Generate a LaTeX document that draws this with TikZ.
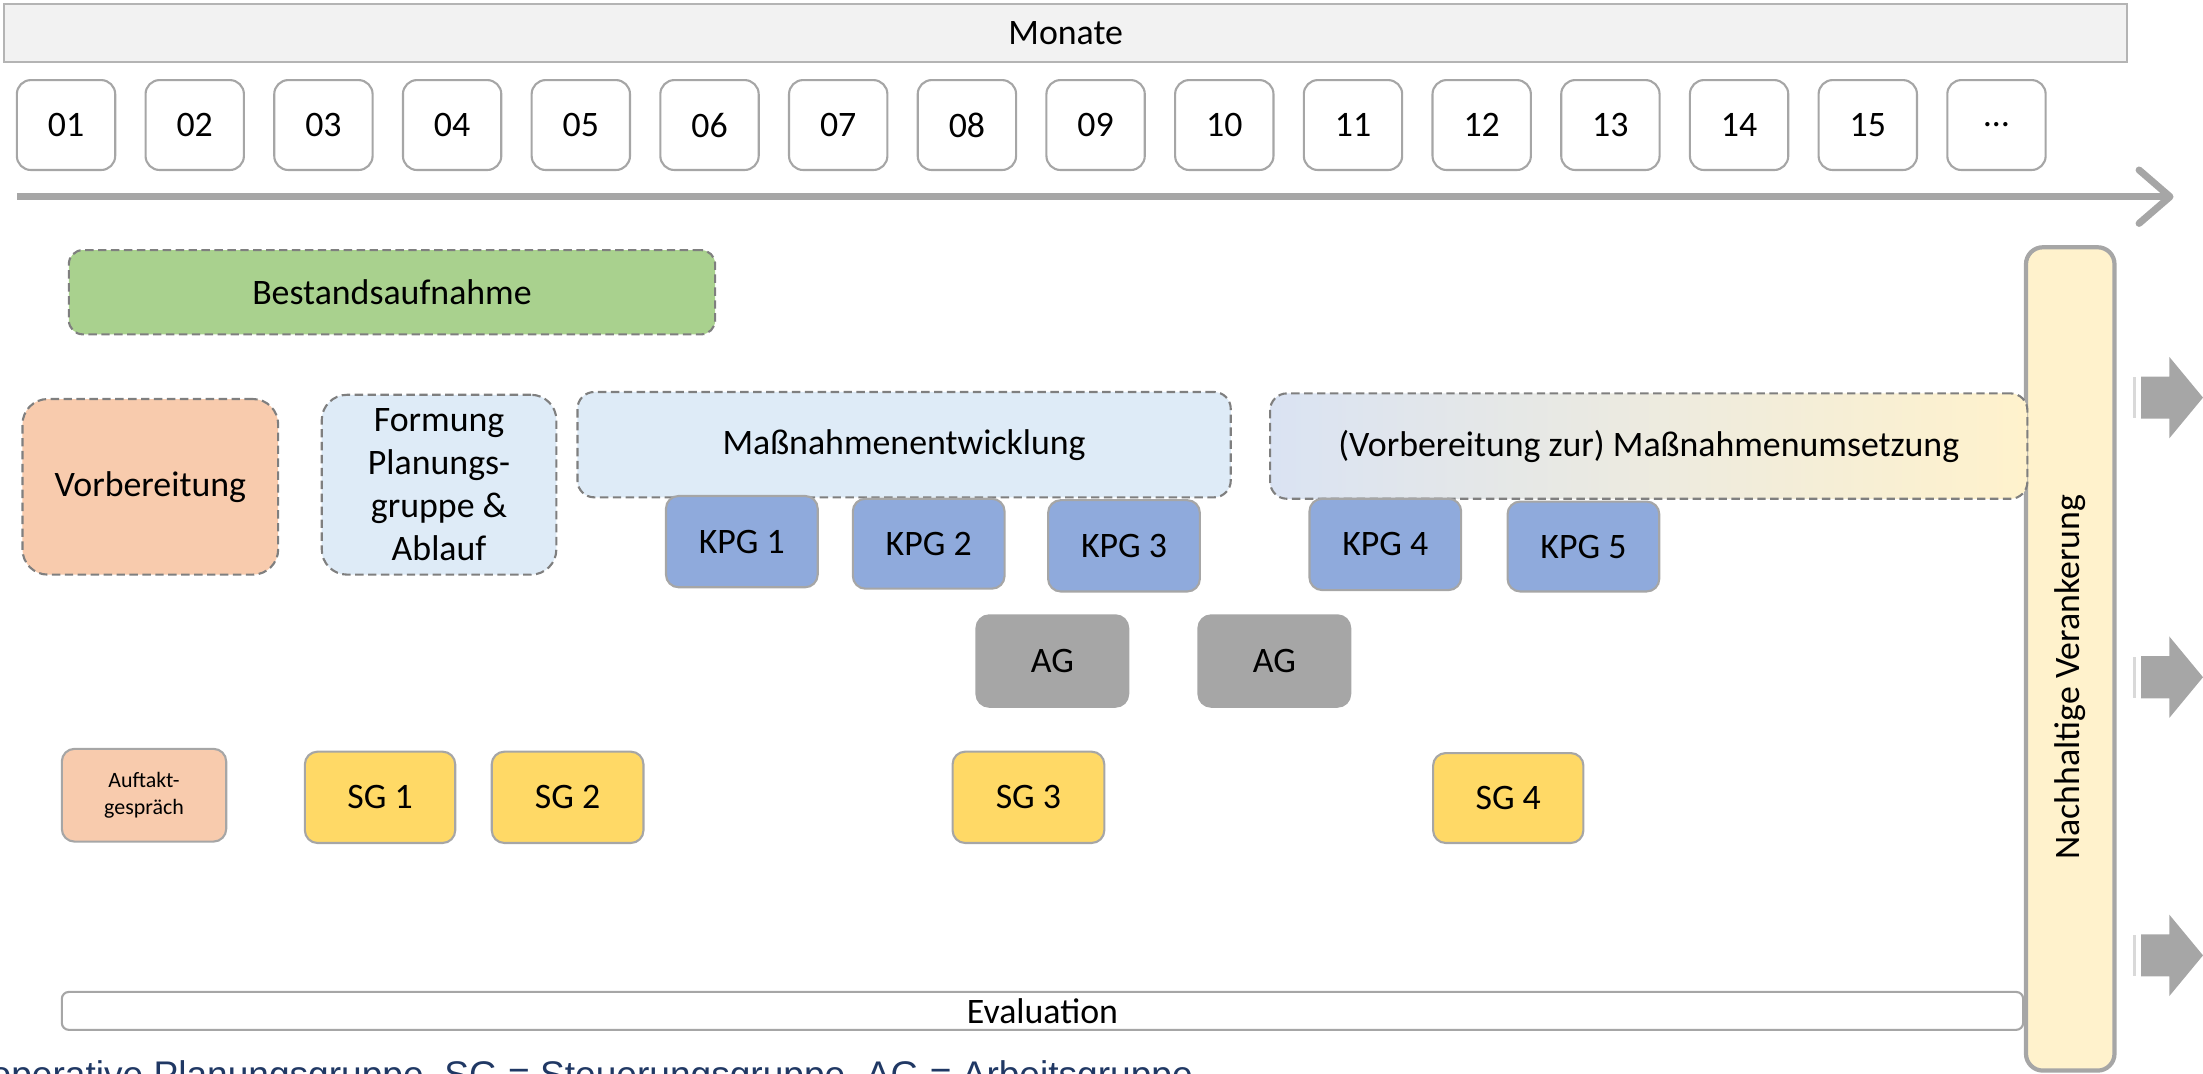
\documentclass[tikz,border=0pt]{standalone}
\usepackage{fontspec}
\setmainfont{Carlito}
\newfontfamily\legendfont{Liberation Sans}
\usetikzlibrary{arrows.meta}

\definecolor{barfill}{HTML}{F2F2F2}
\definecolor{barline}{HTML}{B4B4B4}
\definecolor{boxgray}{HTML}{A6A6A6}
\definecolor{dashgray}{HTML}{7F7F7F}
\definecolor{greenphase}{HTML}{A9D18E}
\definecolor{peach}{HTML}{F8CBAD}
\definecolor{paleblue}{HTML}{DEEBF7}
\definecolor{paleblueL}{HTML}{DAE3F3}
\definecolor{kpgblue}{HTML}{8FAADC}
\definecolor{sgyellow}{HTML}{FFD966}
\definecolor{paleyellow}{HTML}{FFF2CC}
\definecolor{tickgray}{HTML}{D9D9D9}
\definecolor{legendblue}{HTML}{203864}

\begin{document}
\begin{tikzpicture}[x=0.5pt,y=-0.5pt,
  span/.style args={#1/#2/#3/#4}{at={({(#1+#3)/2},{(#2+#4)/2})},
    minimum width={(#3-#1)*0.5pt}, minimum height={(#4-#2)*0.5pt}},
  base/.style={inner sep=0pt, outer sep=0pt, align=center,
    font=\fontsize{12.75}{15.3}\selectfont},
  monthbox/.style={base, draw=boxgray, line width=0.75pt, fill=white,
    rounded corners=5pt, at={(47+#1*91.6,89)},
    minimum width=35pt, minimum height=32pt},
  phase/.style={base, draw=dashgray, line width=0.75pt,
    dash pattern=on 3pt off 1.6pt},
  meeting/.style={base, draw=boxgray, line width=0.75pt, rounded corners=4.5pt},
  kpg/.style={meeting, fill=kpgblue},
  sg/.style={meeting, fill=sgyellow},
  ag/.style={meeting, draw=boxgray, fill=boxgray},
]
\useasboundingbox (0,0) rectangle (1568,764);
\clip (0,0) rectangle (1568,764);

% month header and month boxes
\node[base, draw=barline, line width=0.6pt, fill=barfill, span=3/3/1514/44] (monate) {Monate};
\foreach \i/\lab in {0/01,1/02,2/03,3/04,4/05,5/06,6/07,7/08,8/09,9/10,10/11,11/12,12/13,13/14,14/15,15/…}
  \node[monthbox=\i] (m\i) {\lab};

% time axis
\coordinate (axis0) at (12,140);
\coordinate (axis1) at (1547,140);
\draw[boxgray, line width=2.5pt, -{Straight Barb[length=11pt,width=19pt,round]}] (axis0) -- (axis1);

% sustainable anchoring column
\node[base, draw=boxgray, line width=1.5pt, fill=paleyellow, rounded corners=6pt,
  span=1442/176/1505/762] (anker) {};
\node[base, rotate=90] (ankertext) at (1473.5,482) {Nachhaltige Verankerung};

% phases
\node[phase, fill=greenphase, rounded corners=5pt, span=49/178/509/238] (bestand) {Bestandsaufnahme};
\node[phase, fill=peach, rounded corners=9pt, span=16/284/198/409] (vorb) {Vorbereitung};
\node[phase, fill=paleblue, rounded corners=9pt, span=229/281/396/409] (formung)
  {Formung\\Planungs-\\gruppe \&\\Ablauf};
\node[phase, fill=paleblue, rounded corners=6pt, span=411/279/876/354] (entw) {Maßnahmenentwicklung};
\node[phase, left color=paleblueL, right color=paleyellow, rounded corners=6pt,
  span=904/280/1443/355] (umsetz) {(Vorbereitung zur) Maßnahmenumsetzung};

% cooperative planning group meetings
\node[kpg, span=474/353/582/418] (kpg1) {KPG 1};
\node[kpg, span=607/355/715/419] (kpg2) {KPG 2};
\node[kpg, span=746/356/854/421] (kpg3) {KPG 3};
\node[kpg, span=932/355/1040/420] (kpg4) {KPG 4};
\node[kpg, span=1073/357/1181/421] (kpg5) {KPG 5};

% working groups
\node[ag, span=695/438/803/503] (ag1) {AG};
\node[ag, span=853/438/961/503] (ag2) {AG};

% kick-off and steering group meetings
\node[meeting, fill=peach, span=44/533/161/599, font=\fontsize{7.8}{9.5}\selectfont] (auftakt)
  {Auftakt-\\gespräch};
\node[sg, span=217/535/324/600] (sg1) {SG 1};
\node[sg, span=350/535/458/600] (sg2) {SG 2};
\node[sg, span=678/535/786/600] (sg3) {SG 3};
\node[sg, span=1020/536/1127/600] (sg4) {SG 4};

% evaluation bar
\node[base, draw=boxgray, line width=0.75pt, fill=white, rounded corners=2.5pt,
  span=44/706/1440/733] (eval) {Evaluation};

% outgoing block arrows
\foreach \c in {283,482,680}{
  \fill[tickgray] (1518,\c-14.5) rectangle (1520.5,\c+14.5);
  \fill[boxgray] (1524,\c-15) -- (1544,\c-15) -- (1544,\c-29) -- (1568,\c)
    -- (1544,\c+29) -- (1544,\c+15) -- (1524,\c+15) -- cycle;
}

% legend line
\node[anchor=base west, inner sep=0pt, text=legendblue,
  font=\legendfont\fontsize{13.2}{15}\selectfont] (legend) at (-7,774)
  {operative Planungsgruppe, SG = Steuerungsgruppe, AG = Arbeitsgruppe};
\end{tikzpicture}
\end{document}
